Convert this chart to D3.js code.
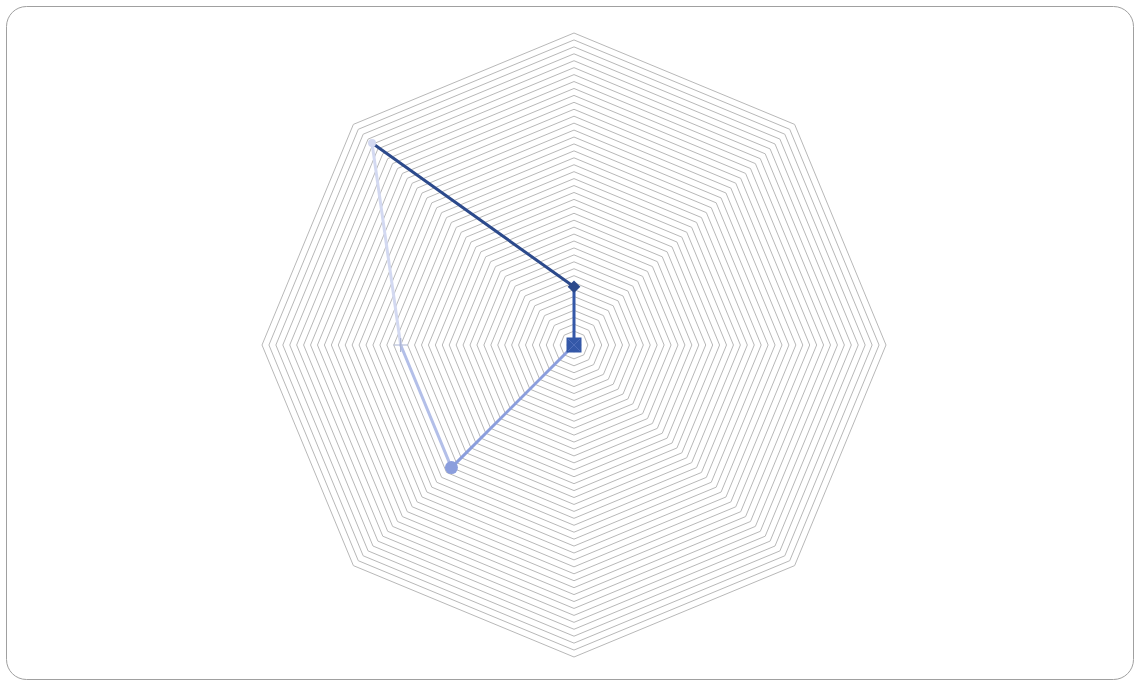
<!DOCTYPE html>
<html>
<head>
<meta charset="utf-8">
<script src="https://cdn.jsdelivr.net/npm/d3@7"></script>
<style>
html,body{margin:0;padding:0;background:#fff;}
svg{display:block;}
</style>
</head>
<body>
<svg id="chart" width="1140" height="684"></svg>
<script>
// axes clockwise from top
const axes = ["A1","A2","A3","A4","A5","A6","A7","A8"];
const values = [8.4, 0, 0, 0, 0, 25, 25, 41.2];
const pointSymbols = ["diamond","square","x","none","none","circle","plus","dot"];
const pointColors = ["#2c4a8c","#3458a8","#6f87cc","#3458a8","#3458a8","#8b9edd","#b3bfe8","#d3d9f1"];
const maxValue = 45;
const gridTicks = d3.range(1, 46, 1);

const svg = d3.select("#chart");
const cx = 574, cy = 345, R = 312;

svg.append("rect").attr("x",6.5).attr("y",6.5).attr("width",1127).attr("height",673)
  .attr("rx",20).attr("ry",20).attr("fill","#fff").attr("stroke","#a0a0a0").attr("stroke-width",1);

const r = d3.scaleLinear().domain([0, maxValue]).range([0, R]);
const ang = d3.scalePoint().domain(axes.concat(["_end"])).range([0, 2*Math.PI]);
const g = svg.append("g").attr("transform", `translate(${cx},${cy})`);

function pt(axis, v){
  const a = ang(axis) - Math.PI/2;
  return [r(v)*Math.cos(a), r(v)*Math.sin(a)];
}

// grid rings
const ring = d3.line().curve(d3.curveLinearClosed);
g.append("g").selectAll("path").data(gridTicks).join("path")
  .attr("d", t => ring(axes.map(a => pt(a, t))))
  .attr("fill","none").attr("stroke","#b8b8b8").attr("stroke-width",1);

// segments (colored by destination point)
const pts = axes.map((a,i) => pt(a, values[i]));
const segs = axes.map((a,i) => ({from: pts[i], to: pts[(i+1)%axes.length], color: pointColors[(i+1)%axes.length]}));
g.append("g").selectAll("line").data(segs).join("line")
  .attr("x1", d=>d.from[0]).attr("y1", d=>d.from[1])
  .attr("x2", d=>d.to[0]).attr("y2", d=>d.to[1])
  .attr("stroke", d=>d.color).attr("stroke-width",3).attr("stroke-linecap","round");

// markers
const mg = g.append("g");
axes.forEach((a,i) => {
  const [x,y] = pts[i];
  const s = pointSymbols[i], c = pointColors[i];
  if (s === "diamond") {
    mg.append("rect").attr("x",-4.5).attr("y",-4.5).attr("width",9).attr("height",9)
      .attr("transform",`translate(${x},${y}) rotate(45)`).attr("fill",c);
  } else if (s === "square") {
    mg.append("rect").attr("x",x-7.5).attr("y",y-7.5).attr("width",15).attr("height",15).attr("fill",c);
  } else if (s === "x") {
    mg.append("path").attr("d",`M${x-6},${y-6}L${x+6},${y+6}M${x-6},${y+6}L${x+6},${y-6}`).attr("stroke",c).attr("stroke-width",0.8).attr("opacity",0.6);
  } else if (s === "circle") {
    mg.append("circle").attr("cx",x).attr("cy",y).attr("r",6.5).attr("fill",c);
  } else if (s === "plus") {
    mg.append("path").attr("d",`M${x-7},${y}L${x+7},${y}M${x},${y-7}L${x},${y+7}`).attr("stroke","#a9b3d3").attr("stroke-width",1.2);
  } else if (s === "dot") {
    mg.append("circle").attr("cx",x).attr("cy",y).attr("r",4).attr("fill",c);
  }
});
</script>
</body>
</html>
